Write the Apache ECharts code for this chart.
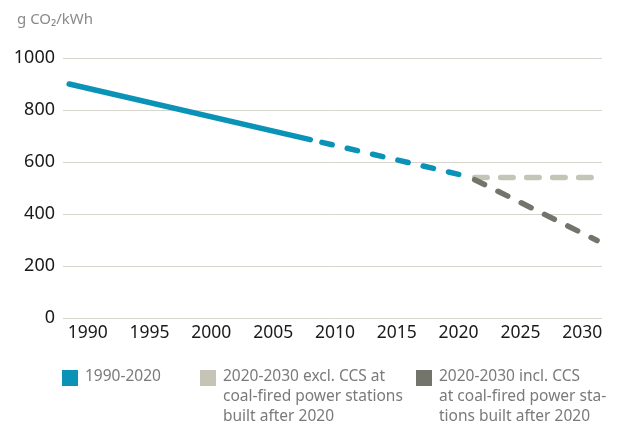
<!DOCTYPE html>
<html>
<head>
<meta charset="utf-8">
<script src="https://cdn.jsdelivr.net/npm/echarts@6/dist/echarts.min.js"></script>
<style>
  html, body { margin: 0; padding: 0; background: #fff; }
  #chart { width: 621px; height: 424px; }
</style>
</head>
<body>
<div id="chart"></div>
<script>
  // data
  var histSolid = [[1988.5, 900], [2008, 686]];
  var histDashed = [[2008, 686], [2020.6, 546]];
  var exclCCS = [[2021.3, 540], [2031.2, 540]];
  var inclCCS = [[2021.3, 532], [2031.2, 298]];
  var yTicks = [0, 200, 400, 600, 800, 1000];
  var legendNames = ['1990-2020', '2020-2030 excl. CCS at\ncoal-fired power stations\nbuilt after 2020', '2020-2030 incl. CCS\nat coal-fired power sta-\ntions built after 2020'];

  var blue = '#0a93b6';
  var light = '#c4c5b6';
  var dark = '#73746c';
  var font = 'Noto Sans';

  var chart = echarts.init(document.getElementById('chart'));

  function legendItem(x, color, name) {
    return [{
      type: 'rect',
      shape: { x: x, y: 370, width: 16, height: 16 },
      style: { fill: color }
    }, {
      type: 'text',
      x: x + 23,
      y: 367,
      style: {
        text: name,
        fill: '#7a7a7a',
        font: '15.5px "' + font + '"',
        lineHeight: 20
      }
    }];
  }

  chart.setOption({
    animation: false,
    title: {
      text: 'g CO₂/kWh',
      left: 12,
      top: 7,
      textStyle: { color: '#8a8a8a', fontSize: 15, fontWeight: 'normal', fontFamily: font }
    },
    grid: { left: 63, right: 19, top: 58, bottom: 106 },
    xAxis: {
      type: 'value',
      min: 1988,
      max: 2031.6,
      interval: 1,
      axisLine: { show: false },
      axisTick: { show: false },
      splitLine: { show: false },
      axisLabel: {
        color: '#1a1a1a',
        fontSize: 17.5,
        fontFamily: font,
        margin: 6,
        showMinLabel: true,
        showMaxLabel: false,
        formatter: function (v) { return v % 5 === 0 ? String(v) : ''; }
      }
    },
    yAxis: {
      type: 'value',
      min: yTicks[0],
      max: yTicks[yTicks.length - 1],
      interval: 200,
      axisLine: { show: false },
      axisTick: { show: false },
      splitLine: { lineStyle: { color: '#d6d6ce', width: 1 } },
      axisLabel: {
        color: '#1a1a1a',
        fontSize: 18,
        fontFamily: font,
        margin: 8,
        formatter: function (v) { return String(v); }
      }
    },
    series: [{
      name: legendNames[0],
      type: 'line',
      data: histSolid,
      symbol: 'none',
      lineStyle: { color: blue, width: 5.5, cap: 'round' }
    }, {
      name: legendNames[0] + ' dashed',
      type: 'line',
      data: histDashed,
      symbol: 'none',
      lineStyle: { color: blue, width: 5.5, cap: 'round', type: [10.5, 15.5], dashOffset: -12 }
    }, {
      name: legendNames[1],
      type: 'line',
      data: exclCCS,
      symbol: 'none',
      lineStyle: { color: light, width: 5.5, cap: 'round', type: [12.5, 13.5] }
    }, {
      name: legendNames[2],
      type: 'line',
      data: inclCCS,
      symbol: 'none',
      lineStyle: { color: dark, width: 5.5, cap: 'round', type: [11, 15] }
    }],
    graphic: [].concat(
      legendItem(62, blue, legendNames[0]),
      legendItem(200, light, legendNames[1]),
      legendItem(416, dark, legendNames[2])
    )
  });
</script>
</body>
</html>
